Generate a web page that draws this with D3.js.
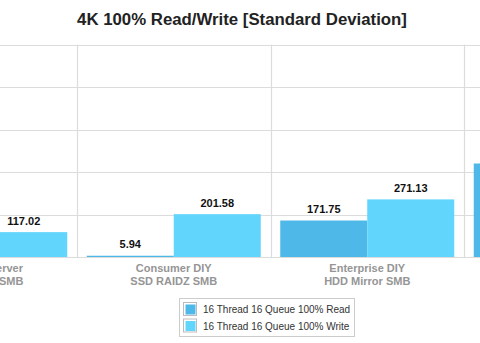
<!DOCTYPE html>
<html>
<head>
<meta charset="utf-8">
<script src="https://cdn.jsdelivr.net/npm/d3@7"></script>
<style>
html,body{margin:0;padding:0;background:#fff;overflow:hidden;}
svg{display:block;font-family:"Liberation Sans",Arial,sans-serif;}
</style>
</head>
<body>
<svg id="chart" width="480" height="343"></svg>
<script>
const title = "4K 100% Read/Write [Standard Deviation]";
const categories = ["Windows Server|HDD Mirror SMB", "Consumer DIY|SSD RAIDZ SMB", "Enterprise DIY|HDD Mirror SMB", "Enterprise DIY|SSD Mirror SMB"];
const readValues = [60.0, 5.94, 171.75, 440.0];
const writeValues = [117.02, 201.58, 271.13, 300.0];
const seriesNames = ["16 Thread 16 Queue 100% Read", "16 Thread 16 Queue 100% Write"];
const seriesColors = ["#4EB8E8", "#62D5FD"];
const yTicks = [0, 200, 400, 600, 800, 1000];

const svg = d3.select("#chart");
const plotTop = 44.5, base = 257;
const step = 193.5, startX = -116.5;

const x0 = d3.scaleBand().domain(categories)
  .range([startX, startX + step * categories.length]).padding(0);
const x1 = d3.scaleBand().domain([0, 1]).range([0, x0.bandwidth()])
  .paddingInner(0).paddingOuter(0.112);
const y = d3.scaleLinear().domain([0, 1000]).range([base, plotTop]);

// grid
const g = svg.append("g");
g.selectAll("line.h").data(yTicks).join("line")
  .attr("x1", 0).attr("x2", 480)
  .attr("y1", d => Math.round(y(d)) + 0.5).attr("y2", d => Math.round(y(d)) + 0.5)
  .attr("stroke", "#dcdcdc").attr("stroke-width", 1.2);
g.selectAll("line.v").data(categories.slice(1)).join("line")
  .attr("x1", d => Math.round(x0(d)) + 0.5).attr("x2", d => Math.round(x0(d)) + 0.5)
  .attr("y1", y(1000)).attr("y2", base)
  .attr("stroke", "#dcdcdc").attr("stroke-width", 1.2);

// bars
const rows = categories.map((c, i) => ({c, vals: [readValues[i], writeValues[i]]}));
const grp = svg.append("g").selectAll("g").data(rows).join("g")
  .attr("transform", d => `translate(${x0(d.c)},0)`);
grp.selectAll("rect").data(d => d.vals.map((v, k) => ({v, k}))).join("rect")
  .attr("x", d => x1(d.k)).attr("width", x1.bandwidth())
  .attr("y", d => y(d.v)).attr("height", d => base - y(d.v))
  .attr("fill", d => seriesColors[d.k]);
grp.selectAll("text.val").data(d => d.vals.map((v, k) => ({v, k}))).join("text")
  .attr("class", "val")
  .attr("x", d => x1(d.k) + x1.bandwidth() / 2)
  .attr("y", d => y(d.v) - 7.5)
  .attr("text-anchor", "middle")
  .attr("font-size", 11).attr("font-weight", "bold").attr("fill", "#111")
  .text(d => d.v.toFixed(2));

// category labels
const cl = svg.append("g").selectAll("text").data(categories).join("text")
  .attr("x", d => x0(d) + x0.bandwidth() / 2)
  .attr("text-anchor", "middle")
  .attr("font-size", 11).attr("font-weight", "bold").attr("fill", "#959595");
cl.each(function(d) {
  const parts = d.split("|");
  const t = d3.select(this);
  parts.forEach((p, i) => t.append("tspan")
    .attr("x", x0(d) + x0.bandwidth() / 2)
    .attr("y", 272 + i * 13).text(p));
});

// title
svg.append("text").attr("x", 242).attr("y", 24.5).attr("text-anchor", "middle")
  .attr("font-size", 16.8).attr("font-weight", "bold").attr("fill", "#222").text(title);

// legend
const lg = svg.append("g");
lg.append("rect").attr("x", 179.5).attr("y", 298.5).attr("width", 175).attr("height", 38)
  .attr("fill", "#fff").attr("stroke", "#cccccc");
seriesNames.forEach((n, i) => {
  const yy = 302.5 + i * 16.5;
  lg.append("rect").attr("x", 183.5).attr("y", yy).attr("width", 13).attr("height", 13)
    .attr("fill", "#fff").attr("stroke", "#bbbbbb");
  lg.append("rect").attr("x", 185.5).attr("y", yy + 2).attr("width", 10).attr("height", 10)
    .attr("fill", seriesColors[i]);
  lg.append("text").attr("x", 203).attr("y", yy + 10.5).attr("font-size", 10)
    .attr("fill", "#333").text(n);
});
</script>
</body>
</html>
